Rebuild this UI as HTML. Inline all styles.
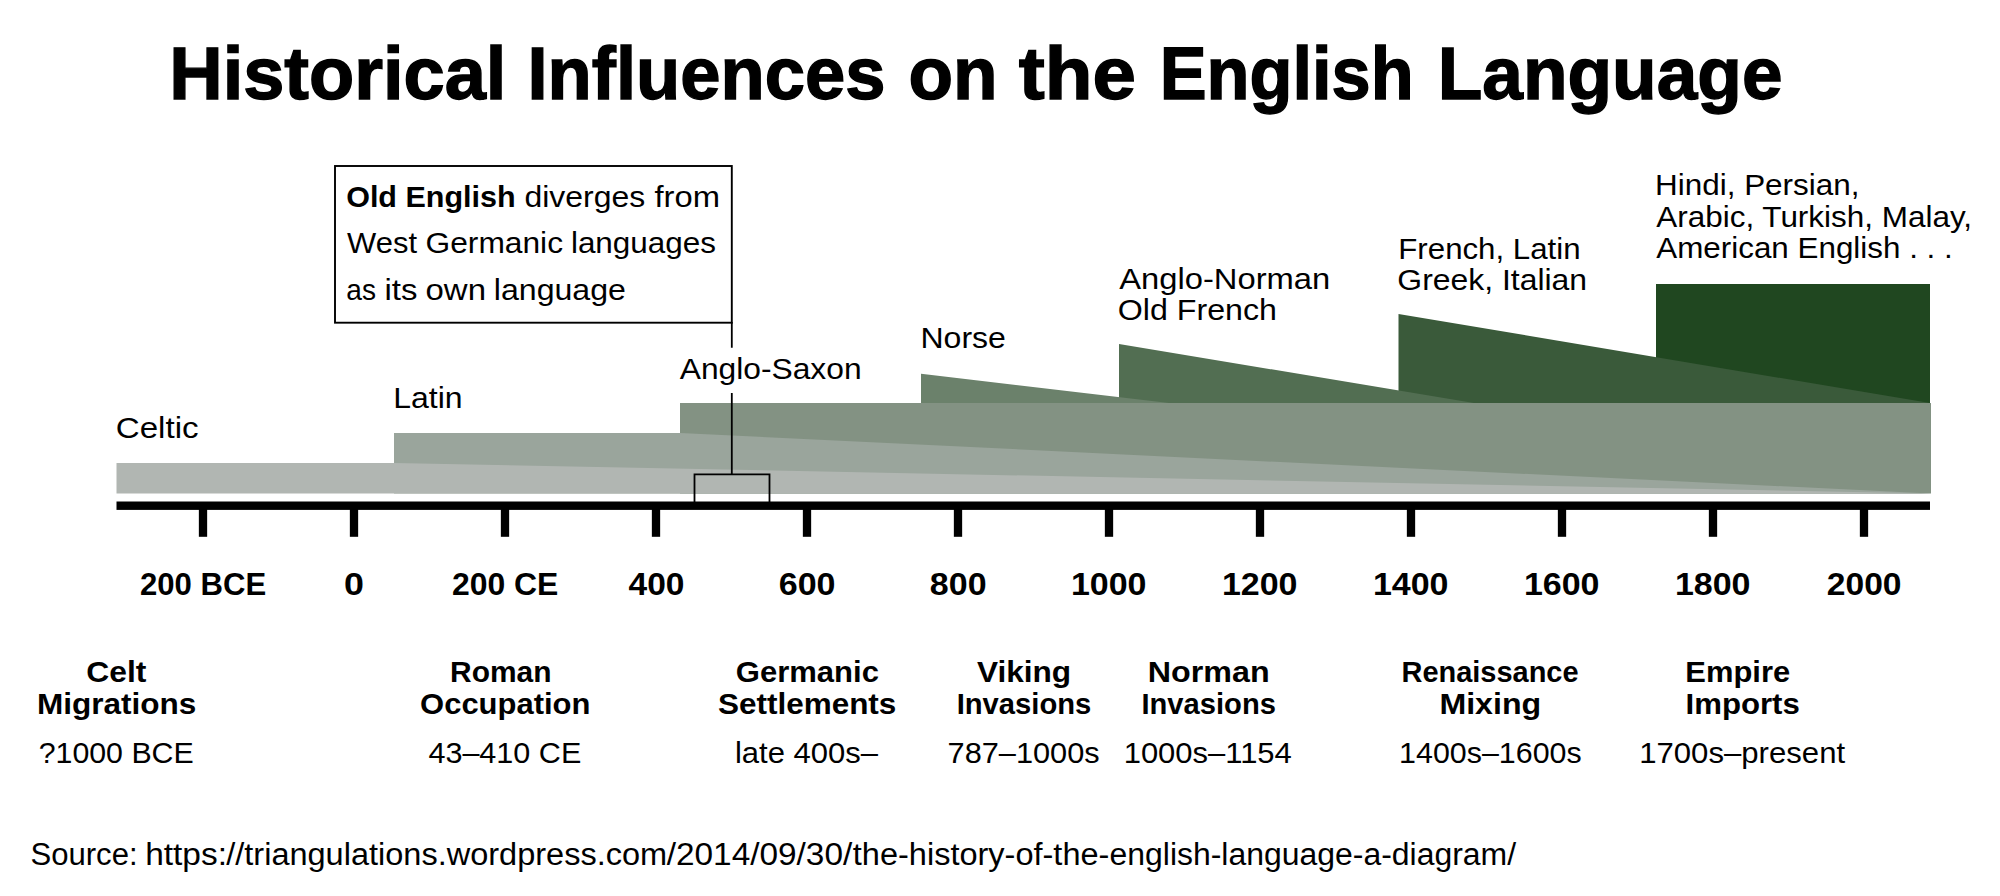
<!DOCTYPE html>
<html lang="en">
<head>
<meta charset="utf-8">
<title>Historical Influences on the English Language</title>
<style>
html,body{margin:0;padding:0;background:#fff;}
body{width:2000px;height:896px;overflow:hidden;}
svg{display:block;}
text{font-family:"Liberation Sans",sans-serif;fill:#000;}
</style>
</head>
<body>
<svg width="2000" height="896" viewBox="0 0 2000 896">
<rect width="2000" height="896" fill="#fff"/>
<g id="shapes">
<polygon points="1656,284 1930,284 1930,403 1656,403" fill="#204720"/>
<polygon points="1398.5,314 1930,403 1398.5,403" fill="#3a5a3a"/>
<polygon points="1119,344 1474,403 1119,403" fill="#526e52"/>
<polygon points="921,373.7 1169,403 921,403" fill="#6b816b"/>
<polygon points="680,403 1931,403 1931,493.5 680,493.5" fill="#839283"/>
<polygon points="394,433 680,433 1931,493.5 394,493.5" fill="#9aa59c"/>
<polygon points="116.5,463 394,463 1931,493.5 116.5,493.5" fill="#b1b6b2"/>
<rect x="116.5" y="501.5" width="1813.5" height="8.4"/>
<rect x="198.85" y="505" width="8.3" height="31.8"/><rect x="349.85" y="505" width="8.3" height="31.8"/><rect x="500.85" y="505" width="8.3" height="31.8"/><rect x="651.85" y="505" width="8.3" height="31.8"/><rect x="802.85" y="505" width="8.3" height="31.8"/><rect x="953.85" y="505" width="8.3" height="31.8"/><rect x="1104.85" y="505" width="8.3" height="31.8"/><rect x="1255.85" y="505" width="8.3" height="31.8"/><rect x="1406.85" y="505" width="8.3" height="31.8"/><rect x="1557.85" y="505" width="8.3" height="31.8"/><rect x="1708.85" y="505" width="8.3" height="31.8"/><rect x="1859.85" y="505" width="8.3" height="31.8"/>
<rect x="335" y="166" width="396.8" height="156.7" fill="#fff" stroke="#000" stroke-width="1.9"/>
<path d="M731.8,322V347.8M731.8,393V474M694.5,502V474.3H769.5V502" fill="none" stroke="#000" stroke-width="1.8"/>
</g>
<g id="texts">
<text font-size="74" font-weight="700" stroke="#000" stroke-width="1.4"><tspan id="t0" x="169.19" y="99.2" textLength="337.25" lengthAdjust="spacingAndGlyphs">Historical</tspan> <tspan id="t1" x="527.49" y="99.2" textLength="357.94" lengthAdjust="spacingAndGlyphs">Influences</tspan> <tspan id="t2" x="908.44" y="99.2" textLength="89.09" lengthAdjust="spacingAndGlyphs">on</tspan> <tspan id="t3" x="1018.85" y="99.2" textLength="117.16" lengthAdjust="spacingAndGlyphs">the</tspan> <tspan id="t4" x="1159.63" y="99.2" textLength="254.0" lengthAdjust="spacingAndGlyphs">English</tspan> <tspan id="t5" x="1437.76" y="99.2" textLength="344.75" lengthAdjust="spacingAndGlyphs">Language</tspan></text>
<text id="t6" x="346.16" y="206.8" font-size="30" font-weight="700" textLength="169.43" lengthAdjust="spacingAndGlyphs">Old English</text>
<text font-size="30"><tspan id="t7" x="524.45" y="206.8" textLength="120.67" lengthAdjust="spacingAndGlyphs">diverges</tspan> <tspan id="t8" x="654.48" y="206.8" textLength="65.43" lengthAdjust="spacingAndGlyphs">from</tspan></text>
<text font-size="30"><tspan id="t9" x="347.14" y="252.5" textLength="69.87" lengthAdjust="spacingAndGlyphs">West</tspan> <tspan id="t10" x="425.49" y="252.5" textLength="137.55" lengthAdjust="spacingAndGlyphs">Germanic</tspan> <tspan id="t11" x="570.9" y="252.5" textLength="145.14" lengthAdjust="spacingAndGlyphs">languages</tspan></text>
<text font-size="30"><tspan id="t12" x="346.35" y="299.6" textLength="29.67" lengthAdjust="spacingAndGlyphs">as</tspan> <tspan id="t13" x="384.49" y="299.6" textLength="32.95" lengthAdjust="spacingAndGlyphs">its</tspan> <tspan id="t14" x="425.57" y="299.6" textLength="60.42" lengthAdjust="spacingAndGlyphs">own</tspan> <tspan id="t15" x="493.8" y="299.6" textLength="132.11" lengthAdjust="spacingAndGlyphs">language</tspan></text>
<text id="t16" x="115.78" y="437.7" font-size="30" textLength="82.8" lengthAdjust="spacingAndGlyphs">Celtic</text>
<text id="t17" x="393.28" y="407.6" font-size="30" textLength="69.29" lengthAdjust="spacingAndGlyphs">Latin</text>
<text id="t18" x="679.77" y="379" font-size="30" textLength="181.79" lengthAdjust="spacingAndGlyphs">Anglo-Saxon</text>
<text id="t19" x="920.44" y="347.5" font-size="30" textLength="85.44" lengthAdjust="spacingAndGlyphs">Norse</text>
<text id="t20" x="1119.31" y="288.7" font-size="30" textLength="210.95" lengthAdjust="spacingAndGlyphs">Anglo-Norman</text>
<text id="t21" x="1117.84" y="319.6" font-size="30" textLength="159.17" lengthAdjust="spacingAndGlyphs">Old French</text>
<text id="t22" x="1398.3" y="259" font-size="30" textLength="182.22" lengthAdjust="spacingAndGlyphs">French, Latin</text>
<text id="t23" x="1397.33" y="289.8" font-size="30" textLength="189.79" lengthAdjust="spacingAndGlyphs">Greek, Italian</text>
<text id="t24" x="1655.04" y="194.6" font-size="30" textLength="204.43" lengthAdjust="spacingAndGlyphs">Hindi, Persian,</text>
<text id="t25" x="1656.31" y="226.5" font-size="30" textLength="315.73" lengthAdjust="spacingAndGlyphs">Arabic, Turkish, Malay,</text>
<text id="t26" x="1656.31" y="258.2" font-size="30" textLength="296.45" lengthAdjust="spacingAndGlyphs">American English . . .</text>
<text id="t27" x="140.0" y="594.7" font-size="31" font-weight="700" textLength="126.22" lengthAdjust="spacingAndGlyphs">200 BCE</text>
<text id="t28" x="343.99" y="594.7" font-size="31" font-weight="700" textLength="19.95" lengthAdjust="spacingAndGlyphs">0</text>
<text id="t29" x="451.92" y="594.7" font-size="31" font-weight="700" textLength="106.48" lengthAdjust="spacingAndGlyphs">200 CE</text>
<text id="t30" x="628.5" y="594.7" font-size="31" font-weight="700" textLength="56.0" lengthAdjust="spacingAndGlyphs">400</text>
<text id="t31" x="778.73" y="594.7" font-size="31" font-weight="700" textLength="56.78" lengthAdjust="spacingAndGlyphs">600</text>
<text id="t32" x="929.88" y="594.7" font-size="31" font-weight="700" textLength="56.68" lengthAdjust="spacingAndGlyphs">800</text>
<text id="t33" x="1070.91" y="594.7" font-size="31" font-weight="700" textLength="75.61" lengthAdjust="spacingAndGlyphs">1000</text>
<text id="t34" x="1221.91" y="594.7" font-size="31" font-weight="700" textLength="75.61" lengthAdjust="spacingAndGlyphs">1200</text>
<text id="t35" x="1372.91" y="594.7" font-size="31" font-weight="700" textLength="75.61" lengthAdjust="spacingAndGlyphs">1400</text>
<text id="t36" x="1523.91" y="594.7" font-size="31" font-weight="700" textLength="75.61" lengthAdjust="spacingAndGlyphs">1600</text>
<text id="t37" x="1674.91" y="594.7" font-size="31" font-weight="700" textLength="75.61" lengthAdjust="spacingAndGlyphs">1800</text>
<text id="t38" x="1826.76" y="594.7" font-size="31" font-weight="700" textLength="74.77" lengthAdjust="spacingAndGlyphs">2000</text>
<text id="t39" x="86.25" y="682.2" font-size="30" font-weight="700" textLength="60.16" lengthAdjust="spacingAndGlyphs">Celt</text>
<text id="t40" x="36.96" y="713.7" font-size="30" font-weight="700" textLength="159.4" lengthAdjust="spacingAndGlyphs">Migrations</text>
<text id="t41" x="38.68" y="763.4" font-size="30" textLength="155.08" lengthAdjust="spacingAndGlyphs">?1000 BCE</text>
<text id="t42" x="450.1" y="682.2" font-size="30" font-weight="700" textLength="101.35" lengthAdjust="spacingAndGlyphs">Roman</text>
<text id="t43" x="420.1" y="713.7" font-size="30" font-weight="700" textLength="170.31" lengthAdjust="spacingAndGlyphs">Occupation</text>
<text id="t44" x="428.41" y="763.4" font-size="30" textLength="152.86" lengthAdjust="spacingAndGlyphs">43–410 CE</text>
<text id="t45" x="735.82" y="682.2" font-size="30" font-weight="700" textLength="143.13" lengthAdjust="spacingAndGlyphs">Germanic</text>
<text id="t46" x="718.02" y="713.7" font-size="30" font-weight="700" textLength="178.34" lengthAdjust="spacingAndGlyphs">Settlements</text>
<text id="t47" x="734.98" y="763.4" font-size="30" textLength="143.02" lengthAdjust="spacingAndGlyphs">late 400s–</text>
<text id="t48" x="977.0" y="682.2" font-size="30" font-weight="700" textLength="94.15" lengthAdjust="spacingAndGlyphs">Viking</text>
<text id="t49" x="956.66" y="713.7" font-size="30" font-weight="700" textLength="134.62" lengthAdjust="spacingAndGlyphs">Invasions</text>
<text id="t50" x="947.56" y="763.4" font-size="30" textLength="152.05" lengthAdjust="spacingAndGlyphs">787–1000s</text>
<text id="t51" x="1147.85" y="682.2" font-size="30" font-weight="700" textLength="121.76" lengthAdjust="spacingAndGlyphs">Norman</text>
<text id="t52" x="1141.44" y="713.7" font-size="30" font-weight="700" textLength="134.47" lengthAdjust="spacingAndGlyphs">Invasions</text>
<text id="t53" x="1123.69" y="763.4" font-size="30" textLength="168.12" lengthAdjust="spacingAndGlyphs">1000s–1154</text>
<text id="t54" x="1401.47" y="682.2" font-size="30" font-weight="700" textLength="177.11" lengthAdjust="spacingAndGlyphs">Renaissance</text>
<text id="t55" x="1439.4" y="713.7" font-size="30" font-weight="700" textLength="101.8" lengthAdjust="spacingAndGlyphs">Mixing</text>
<text id="t56" x="1399.11" y="763.4" font-size="30" textLength="182.54" lengthAdjust="spacingAndGlyphs">1400s–1600s</text>
<text id="t57" x="1685.36" y="682.2" font-size="30" font-weight="700" textLength="104.82" lengthAdjust="spacingAndGlyphs">Empire</text>
<text id="t58" x="1685.53" y="713.7" font-size="30" font-weight="700" textLength="114.27" lengthAdjust="spacingAndGlyphs">Imports</text>
<text id="t59" x="1639.16" y="763.4" font-size="30" textLength="205.96" lengthAdjust="spacingAndGlyphs">1700s–present</text>
<text font-size="31"><tspan id="t60" x="30.42" y="865.3" textLength="107.16" lengthAdjust="spacingAndGlyphs">Source:</tspan> <tspan id="t61" x="145.17" y="865.3" textLength="81.82" lengthAdjust="spacingAndGlyphs">https:</tspan><tspan id="t62" x="226.26" y="865.3" textLength="440.84" lengthAdjust="spacingAndGlyphs">//triangulations.wordpress.com</tspan><tspan id="t63" x="666.75" y="865.3" textLength="185.49" lengthAdjust="spacingAndGlyphs">/2014/09/30/</tspan><tspan id="t64" x="852.81" y="865.3" textLength="256.6" lengthAdjust="spacingAndGlyphs">the-history-of-the-</tspan><tspan id="t65" x="1109.53" y="865.3" textLength="406.52" lengthAdjust="spacingAndGlyphs">english-language-a-diagram/</tspan></text>
</g>
</svg>
</body>
</html>
